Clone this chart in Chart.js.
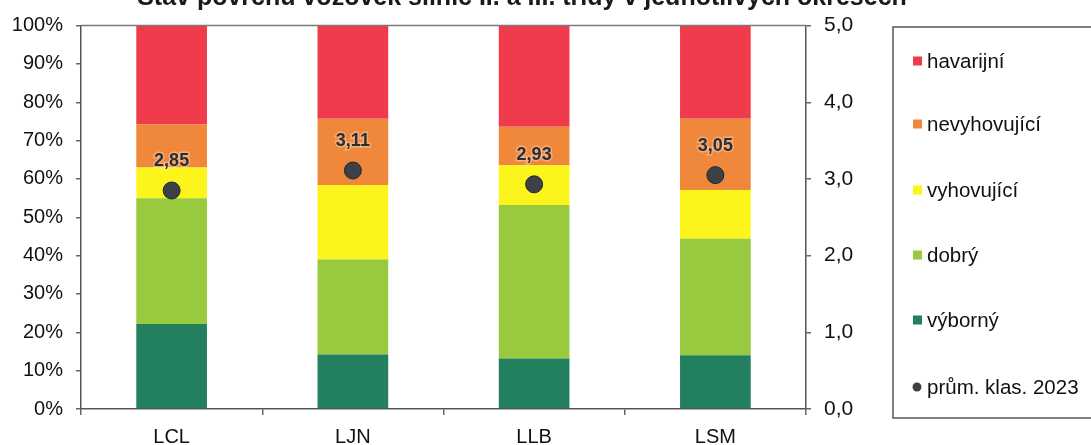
<!DOCTYPE html>
<html lang="cs">
<head>
<meta charset="utf-8">
<script src="https://cdn.jsdelivr.net/npm/chart.js@4/dist/chart.umd.min.js"></script>
<style>
  html, body { margin: 0; padding: 0; background: #fff; }
  #wrap { width: 1091px; height: 445px; position: relative; }
</style>
</head>
<body>
<div id="wrap"><canvas id="c" width="1091" height="445"></canvas></div>
<script>
// Okresy
const categories = ['LCL', 'LJN', 'LLB', 'LSM'];

// Podíl klasifikačních stupňů (%)
const vyborny      = [22.2, 14.2, 13.2, 14.0];
const dobry        = [32.8, 24.8, 40.0, 30.4];
const vyhovujici   = [ 8.0, 19.4, 10.4, 12.7];
const nevyhovujici = [11.2, 17.3, 10.0, 18.6];
const havarijni    = [25.8, 24.3, 26.4, 24.3];

// Průměrná klasifikace 2023
const prumKlas = [2.85, 3.11, 2.93, 3.05];

const leftTicks = [0, 10, 20, 30, 40, 50, 60, 70, 80, 90, 100];
const rightTicks = [0, 1, 2, 3, 4, 5];

const titleText = 'Stav povrchu vozovek silnic II. a III. třídy v jednotlivých okresech';

const COLORS = {
  havarijni: '#ef3b4b',
  nevyhovujici: '#f0883c',
  vyhovujici: '#fcf51c',
  dobry: '#98c93e',
  vyborny: '#22805e',
  point: '#3c4147'
};

const FONT = '"Liberation Sans", Arial, sans-serif';

const fmt = v => v.toFixed(1).replace('.', ',');
const fmt2 = v => v.toFixed(2).replace('.', ',');

const barDs = (label, data, color) => ({
  type: 'bar', label, data, backgroundColor: color, borderWidth: 0,
  yAxisID: 'y', stack: 's', order: 2,
  barPercentage: 0.39, categoryPercentage: 1
});

// Frame, title, value labels and legend
const decor = {
  id: 'decor',
  afterDraw(chart) {
    const { ctx, chartArea: a } = chart;
    ctx.save();
    // top border of the plot
    ctx.strokeStyle = '#7a7a7a';
    ctx.lineWidth = 1.5;
    ctx.beginPath();
    ctx.moveTo(a.left, a.top);
    ctx.lineTo(a.right, a.top);
    ctx.stroke();

    // title (runs off the top edge)
    ctx.fillStyle = '#1a1a1a';
    ctx.font = 'bold 25px ' + FONT;
    ctx.textAlign = 'center';
    ctx.textBaseline = 'alphabetic';
    ctx.fillText(titleText, 522, 5);

    // value labels above the points
    const meta = chart.getDatasetMeta(chart.data.datasets.length - 1);
    ctx.font = 'bold 18px ' + FONT;
    ctx.textBaseline = 'middle';
    meta.data.forEach((pt, i) => {
      const t = fmt2(prumKlas[i]);
      ctx.lineWidth = 3;
      ctx.strokeStyle = 'rgba(255,255,255,0.3)';
      ctx.strokeText(t, pt.x, pt.y - 29);
      ctx.fillStyle = '#2b2f33';
      ctx.fillText(t, pt.x, pt.y - 29);
    });

    // legend box
    ctx.strokeStyle = '#555';
    ctx.lineWidth = 1.5;
    ctx.beginPath();
    ctx.moveTo(1095, 27);
    ctx.lineTo(893, 27);
    ctx.lineTo(893, 418);
    ctx.lineTo(1095, 418);
    ctx.stroke();

    const items = [
      ['havarijní', COLORS.havarijni, 61],
      ['nevyhovující', COLORS.nevyhovujici, 124],
      ['vyhovující', COLORS.vyhovujici, 190],
      ['dobrý', COLORS.dobry, 255],
      ['výborný', COLORS.vyborny, 320],
      ['prům. klas. 2023', COLORS.point, 387]
    ];
    ctx.font = '20.5px ' + FONT;
    ctx.textAlign = 'left';
    ctx.textBaseline = 'middle';
    items.forEach(([txt, col, y], i) => {
      ctx.fillStyle = col;
      if (i === items.length - 1) {
        ctx.beginPath();
        ctx.arc(917, y, 4.5, 0, Math.PI * 2);
        ctx.fill();
      } else {
        ctx.fillRect(913, y - 4.5, 9, 9);
      }
      ctx.fillStyle = '#111';
      ctx.fillText(txt, 927, y + 1);
    });
    ctx.restore();
  }
};

new Chart(document.getElementById('c'), {
  data: {
    labels: categories,
    datasets: [
      barDs('výborný', vyborny, COLORS.vyborny),
      barDs('dobrý', dobry, COLORS.dobry),
      barDs('vyhovující', vyhovujici, COLORS.vyhovujici),
      barDs('nevyhovující', nevyhovujici, COLORS.nevyhovujici),
      barDs('havarijní', havarijni, COLORS.havarijni),
      {
        type: 'line', label: 'prům. klas. 2023', data: prumKlas,
        yAxisID: 'y2', showLine: false, order: 1,
        pointRadius: 8.5, pointHoverRadius: 8.5,
        pointBackgroundColor: COLORS.point, pointBorderColor: '#23272b', pointBorderWidth: 1
      }
    ]
  },
  options: {
    responsive: false,
    animation: false,
    devicePixelRatio: 1,
    layout: { padding: { top: 22, left: 0, right: 0, bottom: 0 } },
    plugins: { legend: { display: false }, tooltip: { enabled: false } },
    scales: {
      x: {
        stacked: true,
        offset: true,
        grid: { offset: true, drawOnChartArea: false, drawTicks: true, tickLength: 6, color: '#666', lineWidth: 1.5 },
        border: { display: true, color: '#555', width: 1.5 },
        ticks: { color: '#111', font: { family: FONT, size: 20 }, padding: 10 },
        afterFit(s) { s.height = 36; }
      },
      y: {
        stacked: true,
        position: 'left',
        min: 0, max: 100,
        afterBuildTicks(s) { s.ticks = leftTicks.map(v => ({ value: v })); },
        grid: { drawOnChartArea: false, drawTicks: true, tickLength: 5, color: '#666', lineWidth: 1.5 },
        border: { display: true, color: '#555', width: 1.5 },
        ticks: { color: '#111', font: { family: FONT, size: 20 }, padding: 13, callback: v => v + '%' },
        afterFit(s) { s.width = 81; }
      },
      y2: {
        position: 'right',
        min: 0, max: 5,
        afterBuildTicks(s) { s.ticks = rightTicks.map(v => ({ value: v })); },
        grid: { drawOnChartArea: false, drawTicks: true, tickLength: 5, color: '#666', lineWidth: 1.5 },
        border: { display: true, color: '#555', width: 1.5 },
        ticks: { color: '#111', font: { family: FONT, size: 21 }, padding: 13, callback: v => fmt(v) },
        afterFit(s) { s.width = 285; }
      }
    }
  },
  plugins: [decor]
});
</script>
</body>
</html>
